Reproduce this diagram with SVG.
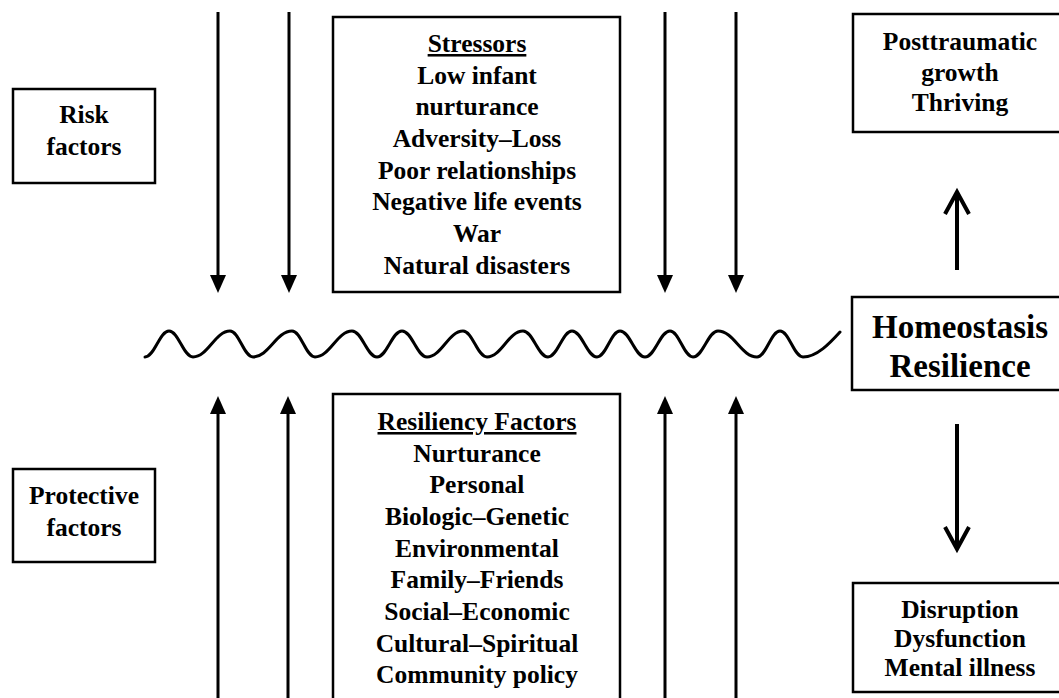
<svg xmlns="http://www.w3.org/2000/svg" width="1059" height="698" viewBox="0 0 1059 698">
<style>
.box{fill:#fff;stroke:#000;stroke-width:2.5}
.t{font-family:"Liberation Serif","Times New Roman",serif;font-weight:bold;font-size:25.5px;fill:#000;text-anchor:middle}
.big{font-size:33px}
.u{text-decoration:underline}
.ln{stroke:#000;stroke-width:3;fill:none}
.thick{stroke:#000;stroke-width:4;fill:none}
</style>
<defs>
<marker id="tri" markerUnits="userSpaceOnUse" viewBox="0 0 18 16" refX="0" refY="8" markerWidth="18" markerHeight="16" orient="auto">
<path d="M0,0 L18,8 L0,16 z" fill="#000"/>
</marker>
</defs>
<rect width="1059" height="698" fill="#fff"/>
<g id="connectors">
<line class="ln" x1="218" y1="12" x2="218" y2="275" marker-end="url(#tri)"/>
<line class="ln" x1="289" y1="12" x2="289" y2="275" marker-end="url(#tri)"/>
<line class="ln" x1="665" y1="12" x2="665" y2="275" marker-end="url(#tri)"/>
<line class="ln" x1="736" y1="12" x2="736" y2="275" marker-end="url(#tri)"/>
<line class="ln" x1="218" y1="698" x2="218" y2="414" marker-end="url(#tri)"/>
<line class="ln" x1="288" y1="698" x2="288" y2="414" marker-end="url(#tri)"/>
<line class="ln" x1="665" y1="698" x2="665" y2="414" marker-end="url(#tri)"/>
<line class="ln" x1="736" y1="698" x2="736" y2="414" marker-end="url(#tri)"/>
<line class="thick" x1="957" y1="270" x2="957" y2="193"/>
<polyline class="thick" points="945,214 957,192 969,214"/>
<line class="thick" x1="957" y1="424" x2="957" y2="547"/>
<polyline class="thick" points="945,527 957,549 969,527"/>
<path id="wave" class="ln" stroke-linecap="round" d="M145,357 C154.6,357 159.4,331 169,331 C178.6,331 183.4,357 193,357 C207.8,357 215.2,331 230,331 C239.2,331 243.8,357 253,357 C268.6,357 276.4,331 292,331 C301.2,331 305.8,357 315,357 C329.8,357 337.2,331 352,331 C362,331 367,357 377,357 C387,357 392,331 402,331 C412,331 417,357 427,357 C441.4,357 448.6,331 463,331 C472.6,331 477.4,357 487,357 C501.4,357 508.6,331 523,331 C533,331 538,357 548,357 C557.6,357 562.4,331 572,331 C582,331 587,357 597,357 C606.2,357 610.8,331 620,331 C630,331 635,357 645,357 C655,357 660,331 670,331 C679.2,331 683.8,357 693,357 C703,357 708,331 718,331 C733.6,331 741.4,357 757,357 C766.2,357 770.8,331 780,331 C789.2,331 793.8,357 803,357 C817,357 830,343 840,332"/>
</g>
<g id="risk">
<rect class="box" x="13" y="89" width="142" height="94"/>
<text class="t" x="84" y="123">Risk</text>
<text class="t" x="84" y="155">factors</text>
</g>
<g id="protective">
<rect class="box" x="13" y="469" width="142" height="93"/>
<text class="t" x="84" y="504">Protective</text>
<text class="t" x="84" y="536">factors</text>
</g>
<g id="stressors">
<rect class="box" x="333" y="17" width="287" height="275"/>
<text class="t u" x="477" y="52">Stressors</text>
<text class="t" x="477" y="83.5">Low infant</text>
<text class="t" x="477" y="115">nurturance</text>
<text class="t" x="477" y="147">Adversity–Loss</text>
<text class="t" x="477" y="178.5">Poor relationships</text>
<text class="t" x="477" y="210">Negative life events</text>
<text class="t" x="477" y="242">War</text>
<text class="t" x="477" y="274">Natural disasters</text>
</g>
<g id="resiliency">
<rect class="box" x="333" y="394" width="287" height="320"/>
<text class="t u" x="477" y="430">Resiliency Factors</text>
<text class="t" x="477" y="461.5">Nurturance</text>
<text class="t" x="477" y="493">Personal</text>
<text class="t" x="477" y="525">Biologic–Genetic</text>
<text class="t" x="477" y="556.5">Environmental</text>
<text class="t" x="477" y="588">Family–Friends</text>
<text class="t" x="477" y="620">Social–Economic</text>
<text class="t" x="477" y="652">Cultural–Spiritual</text>
<text class="t" x="477" y="683">Community policy</text>
</g>
<g id="posttraumatic">
<rect class="box" x="853" y="14" width="214" height="118"/>
<text class="t" x="960" y="50">Posttraumatic</text>
<text class="t" x="960" y="80.5">growth</text>
<text class="t" x="960" y="111">Thriving</text>
</g>
<g id="homeostasis">
<rect class="box" x="852" y="297" width="216" height="93"/>
<text class="t big" x="960" y="338">Homeostasis</text>
<text class="t big" x="960" y="377">Resilience</text>
</g>
<g id="disruption">
<rect class="box" x="853" y="583" width="214" height="109"/>
<text class="t" x="960" y="618">Disruption</text>
<text class="t" x="960" y="647">Dysfunction</text>
<text class="t" x="960" y="676">Mental illness</text>
</g>
</svg>
